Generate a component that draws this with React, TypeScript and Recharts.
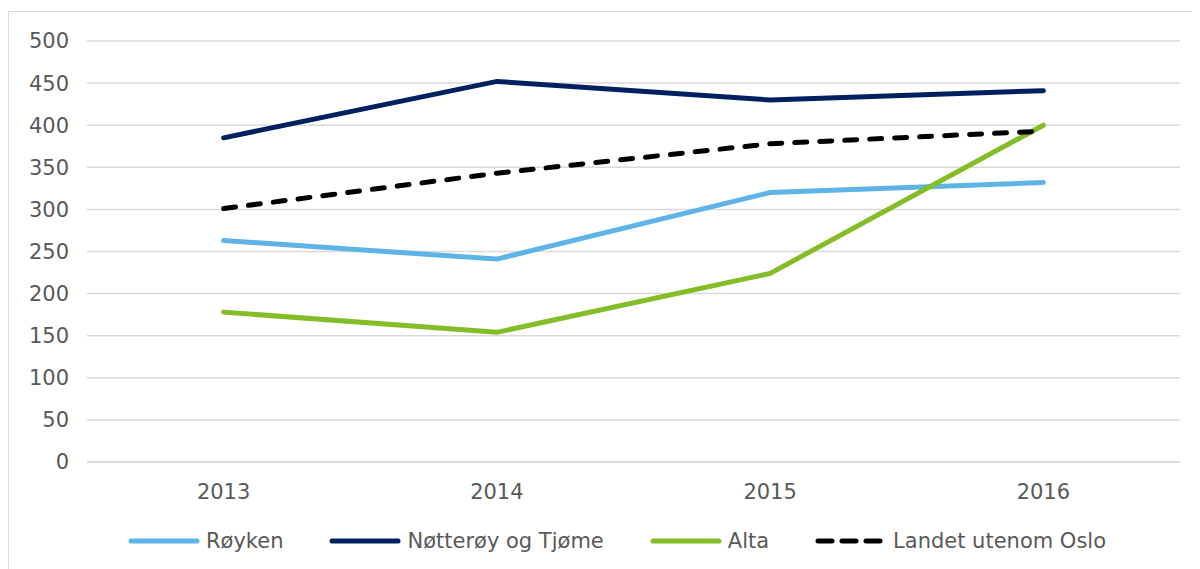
import { CartesianGrid, Line, LineChart, XAxis, YAxis } from "recharts";

const years = ["2013", "2014", "2015", "2016"];
const royken = [263, 241, 320, 332];
const notteroy = [385, 452, 430, 441];
const alta = [178, 154, 224, 400];
const landet = [301, 343, 378, 393];
const yTicks = [0, 50, 100, 150, 200, 250, 300, 350, 400, 450, 500];

const series = [
  { key: "royken", name: "Røyken", color: "#5EB4E6", dash: undefined },
  { key: "notteroy", name: "Nøtterøy og Tjøme", color: "#002060", dash: undefined },
  { key: "alta", name: "Alta", color: "#84BD28", dash: undefined },
  { key: "landet", name: "Landet utenom Oslo", color: "#000000", dash: "12 13" },
];

const data = years.map((year, i) => ({
  year,
  royken: royken[i],
  notteroy: notteroy[i],
  alta: alta[i],
  landet: landet[i],
}));

const font = "'DejaVu Sans', Verdana, sans-serif";

function LegendRow() {
  return (
    <div
      style={{
        position: "absolute",
        top: 517,
        left: 0,
        width: 1200,
        display: "flex",
        justifyContent: "center",
        gap: 46,
        paddingLeft: 16,
        boxSizing: "border-box",
        fontFamily: font,
        fontSize: 21,
        color: "#595959",
        alignItems: "center",
        height: 24,
      }}
    >
      {series.map((s) => (
        <div key={s.key} style={{ display: "flex", alignItems: "center" }}>
          <svg width={72} height={10} style={{ marginRight: 6 }}>
            <line
              x1={3}
              y1={5}
              x2={69}
              y2={5}
              stroke={s.color}
              strokeWidth={5}
              strokeLinecap="round"
              strokeDasharray={s.dash ? "14 10" : undefined}
            />
          </svg>
          <span>{s.name}</span>
        </div>
      ))}
    </div>
  );
}

export default function App() {
  return (
    <div
      style={{
        position: "relative",
        marginTop: 3,
        width: 1200,
        height: 570,
        border: "1px solid #D9D9D9",
        background: "#fff",
      }}
    >
      <LineChart
        width={1200}
        height={557}
        data={data}
        margin={{ top: 29, right: 29, bottom: 77, left: 0 }}
      >
        <CartesianGrid vertical={false} stroke="#D9D9D9" strokeWidth={1.5} />
        <XAxis
          dataKey="year"
          scale="band"
          axisLine={{ stroke: "#D9D9D9", strokeWidth: 1.5 }}
          tickLine={false}
          tickMargin={16}
          tick={{ fill: "#595959", fontSize: 21, fontFamily: font }}
        />
        <YAxis
          width={78}
          domain={[0, 500]}
          ticks={yTicks}
          axisLine={false}
          tickLine={false}
          tickMargin={12}
          tick={{ fill: "#595959", fontSize: 21, fontFamily: font }}
        />
        {series.map((s) => (
          <Line
            key={s.key}
            type="linear"
            dataKey={s.key}
            name={s.name}
            stroke={s.color}
            strokeWidth={5}
            strokeLinecap="round"
            strokeDasharray={s.dash}
            dot={false}
            activeDot={false}
            isAnimationActive={false}
          />
        ))}
      </LineChart>
      <LegendRow />
    </div>
  );
}
